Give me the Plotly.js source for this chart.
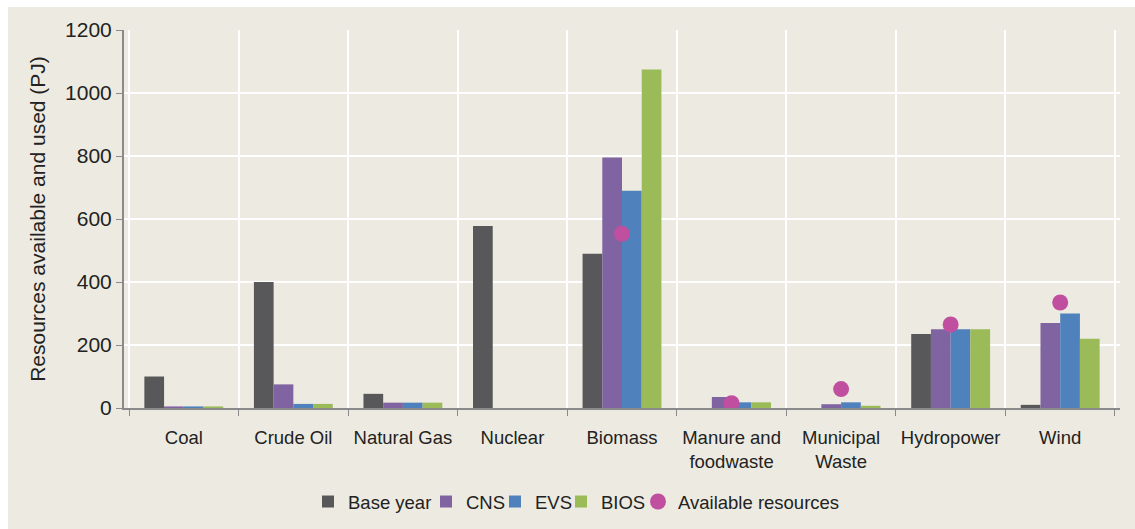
<!DOCTYPE html>
<html>
<head>
<meta charset="utf-8">
<script src="https://cdn.plot.ly/plotly-3.0.1.min.js"></script>
<style>
  html, body { margin:0; padding:0; background:#ffffff; }
  #chart { position:absolute; left:8px; top:7px; width:1127px; height:522px; }
</style>
</head>
<body>
<div id="chart"></div>
<script>
const categories = ["Coal", "Crude Oil", "Natural Gas", "Nuclear", "Biomass", "Manure and<br>foodwaste", "Municipal<br>Waste", "Hydropower", "Wind"];
const baseYear = [100, 400, 45, 578, 490, 0, 0, 235, 10];
const cns      = [5, 75, 17, 0, 795, 35, 12, 250, 270];
const evs      = [5, 13, 17, 0, 690, 18, 18, 250, 300];
const bios     = [5, 13, 17, 0, 1075, 18, 7, 250, 220];
const available = [null, null, null, null, 553, 15, 60, 265, 335];
const yTicks = [0, 200, 400, 600, 800, 1000, 1200];

function barTrace(name, y, color, leg) {
  return { type: 'bar', name: name, x: categories, y: y, legend: leg,
    marker: { color: color, line: { width: 0 } } };
}
const traces = [
  barTrace('Base year', baseYear, '#58585a', 'legend'),
  barTrace('CNS', cns, '#8064a2', 'legend2'),
  barTrace('EVS', evs, '#4f81bd', 'legend3'),
  barTrace('BIOS', bios, '#9bbb59', 'legend4'),
  { type: 'scatter', mode: 'markers', name: 'Available resources', x: categories, y: available,
    legend: 'legend5', marker: { color: '#c04f9f', size: 16, symbol: 'circle' } }
];

const fam = 'Liberation Sans, Arial, Helvetica, sans-serif';
function leg(px) {
  return { orientation: 'h', xref: 'container', yref: 'container', x: px / 1127, xanchor: 'left',
    y: 27 / 522, yanchor: 'middle', font: { family: fam, size: 18.5, color: '#222' },
    itemclick: false, bgcolor: 'rgba(0,0,0,0)', borderwidth: 0 };
}
const layout = {
  width: 1127, height: 522,
  paper_bgcolor: '#edebe1', plot_bgcolor: '#edebe1',
  font: { family: fam, size: 18, color: '#222222' },
  margin: { l: 116, r: 15, t: 23, b: 121 },
  barmode: 'group', bargap: 0.28, bargroupgap: 0,
  showlegend: true,
  legend: leg(300), legend2: leg(418), legend3: leg(487), legend4: leg(553), legend5: leg(630),
  xaxis: {
    type: 'category', tickson: 'boundaries', ticks: 'outside', ticklen: 6, tickcolor: '#8a8a8a',
    showgrid: true, gridcolor: '#ffffff', gridwidth: 2,
    showline: true, linecolor: '#8a8a8a', linewidth: 2,
    tickfont: { family: fam, size: 18.5, color: '#222' }, ticklabelstandoff: 12, automargin: false
  },
  yaxis: {
    range: [0, 1200], tickvals: yTicks, ticktext: yTicks.map(String),
    ticks: 'outside', ticklen: 6, tickcolor: '#8a8a8a',
    showgrid: true, gridcolor: '#ffffff', gridwidth: 2, zeroline: false,
    showline: true, linecolor: '#8a8a8a', linewidth: 2,
    tickfont: { family: fam, size: 21, color: '#222' },
    title: { text: 'Resources available and used (PJ)', font: { family: fam, size: 21, color: '#222' }, standoff: 14 },
    automargin: false
  }
};
Plotly.newPlot('chart', traces, layout, { displayModeBar: false, staticPlot: true });
</script>
</body>
</html>
